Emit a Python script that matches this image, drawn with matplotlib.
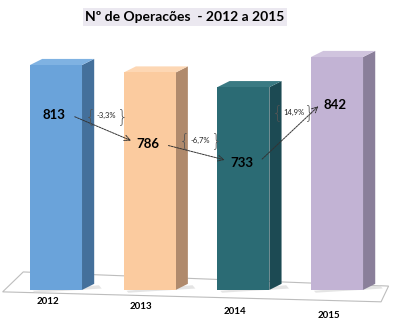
import numpy as np
import matplotlib.pyplot as plt
from matplotlib.patches import Polygon

# data
years = ['2012', '2013', '2014', '2015']
values = [813, 786, 733, 842]
front_colors = ['#6aa3da', '#fbcb9f', '#2b6b74', '#c2b3d4']
side_colors = ['#44709b', '#b08a6c', '#1c4a53', '#8a7f9a']
top_colors = ['#7fb2e2', '#fdd7b4', '#3a7a83', '#d0c4de']

# layout (data units) for the value labels and change labels
label_y = [632, 528, 458, 669]
pct_y = [629, 542, 643]

x = np.arange(len(values))
w = 0.555
dx, dy = 0.13, 22

plt.rcParams['font.family'] = ['Lato', 'DejaVu Sans']
fig = plt.figure(figsize=(4.0, 3.27), dpi=100)
ax = fig.add_axes([0, 0, 1, 1])
ax.set_xlim(-0.598, 3.672)
ax.set_ylim(-134, 1048)
ax.axis('off')

# floor
floor = Polygon([(-0.57, -7), (-0.35, 65), (3.55, 14), (3.47, -43)],
                closed=True, facecolor='white', edgecolor='#bdbdbd', lw=0.8, zorder=0)
ax.add_patch(floor)

# bars: front, side, top
ax.bar(x, values, width=w, color=front_colors, zorder=3)
for i, v in enumerate(values):
    r = x[i] + w / 2
    l = x[i] - w / 2
    # shadow
    ax.add_patch(Polygon([(l + 0.03, -3), (r + dx + 0.05, dy - 5), (r + dx + 0.08, 5), (l + 0.05, -10)],
                         closed=True, facecolor='#d9d9d9', edgecolor='none', alpha=0.7, zorder=1))
    ax.add_patch(Polygon([(r, 0), (r + dx, dy), (r + dx, v + dy), (r, v)],
                         closed=True, facecolor=side_colors[i], edgecolor='none', zorder=2))
    ax.add_patch(Polygon([(l, v), (l + dx, v + dy), (r + dx, v + dy), (r, v)],
                         closed=True, facecolor=top_colors[i], edgecolor='none', zorder=2))
    ax.text(x[i] - 0.02, label_y[i], str(v), ha='center', va='center',
            fontsize=9.5, fontweight='bold', color='black', zorder=5)
    ax.text(x[i] - 0.09, -43 - 17 * i, years[i], ha='center', va='center',
            fontsize=7, fontweight='bold', color='black', zorder=5)

# change arrows and percentages
for i in range(len(values) - 1):
    x0, y0 = x[i] + 0.2, label_y[i]
    x1, y1 = x[i + 1] - 0.2, label_y[i + 1]
    if y1 < y0:
        y0 -= 6
        y1 += 12
    else:
        y0 += 15
        y1 -= 5
    ax.annotate('', xy=(x1, y1), xytext=(x0, y0),
                arrowprops=dict(arrowstyle='->', color='#333333', lw=0.7,
                                linestyle=(0, (2, 1)), shrinkA=0, shrinkB=0), zorder=6)
    pct = (values[i + 1] - values[i]) / values[i] * 100
    txt = f'{pct:.1f}%'.replace('.', ',')
    xm = x[i] + 0.5
    ax.text(xm + 0.04, pct_y[i], txt, ha='center', va='center', fontsize=5.5,
            color='#222222', zorder=6)
    ax.text(xm - 0.13, pct_y[i] - 4, '{', ha='center', va='center', fontsize=13,
            color='#555555', fontweight='light', family='DejaVu Sans', zorder=6)
    ax.text(xm + 0.21, pct_y[i] - 4, '}', ha='center', va='center', fontsize=13,
            color='#555555', fontweight='light', family='DejaVu Sans', zorder=6)

fig.text(0.4625, 0.948, 'Nº de Operacões  - 2012 a 2015', ha='center', va='center',
         fontsize=10, fontweight='bold', color='black',
         bbox=dict(boxstyle='square,pad=0.2', facecolor='#ebe8f0', edgecolor='none'))

fig.savefig('out.png', dpi=100)
